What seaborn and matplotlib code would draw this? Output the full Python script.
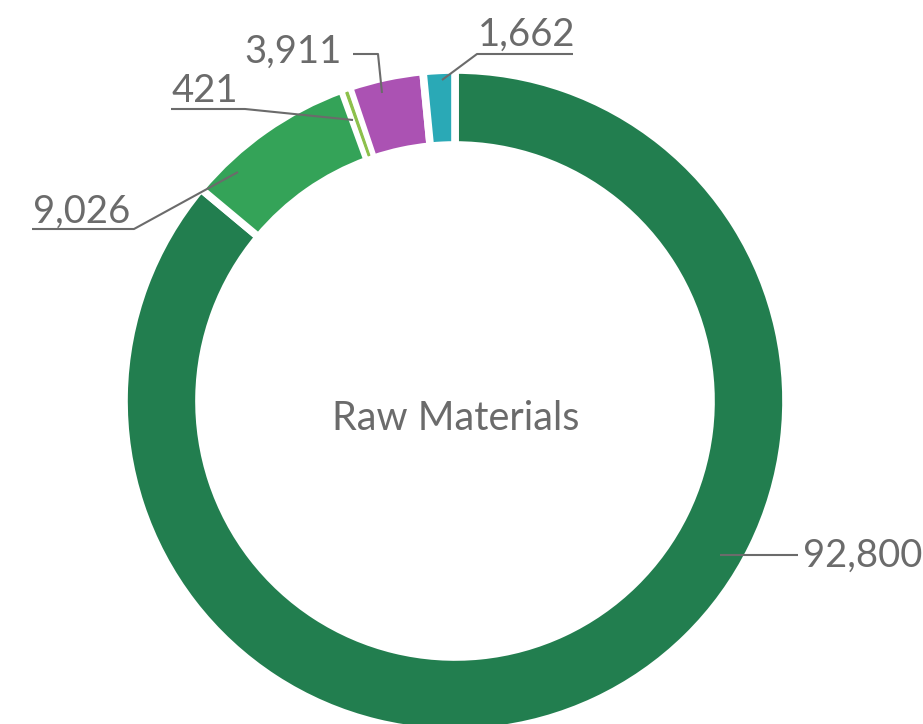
import numpy as np
import matplotlib.pyplot as plt
import seaborn as sns

sns.set_theme(style='white')
plt.rcParams['font.family'] = ['Lato', 'DejaVu Sans']

# data, clockwise from 12 o'clock
labels = ['92,800', '9,026', '421', '3,911', '1,662']
values = [92800, 9026, 421, 3911, 1662]
colors = ['#227e4f', '#34a358', '#8cc04a', '#ab52b3', '#2aa9b6']
center_label = 'Raw Materials'

# layout in image pixels (y down), converted below
W, H = 923, 724
cx, cy = 455, 401
leaders = [
    [(720, 555), (798, 555)],
    [(238, 172), (134, 229), (32, 229)],
    [(353, 120), (245, 109), (171, 109)],
    [(382, 93), (378, 54), (353, 54)],
    [(442, 80), (477, 54), (573, 54)],
]
text_pos = [(803, 567, 'left'), (33, 223, 'left'), (172, 102, 'left'),
            (342, 63, 'right'), (478, 46, 'left')]

grey = '#6b6b6b'


def flip(x, y):
    return x, H - y


fig = plt.figure(figsize=(W / 100, H / 100), dpi=100)
ax = fig.add_axes([0, 0, 1, 1])

wedges, _ = ax.pie(values, colors=colors, startangle=90, counterclock=False,
                   radius=331, center=flip(cx, cy),
                   wedgeprops=dict(width=75, edgecolor='white', linewidth=5.5))

# very small slices would vanish in the white gaps, keep them as a thin line
for w in wedges:
    if w.theta2 - w.theta1 < 2:
        mid = (w.theta1 + w.theta2) / 2
        w.set_theta1(mid - 0.2)
        w.set_theta2(mid + 0.2)
        w.set_radius(327)
        w.set_width(67)
        w.set_edgecolor(w.get_facecolor())
        w.set_linewidth(0.8)
        w.set_zorder(3)

for pts, (tx, ty, ha), lab in zip(leaders, text_pos, labels):
    xs, ys = zip(*[flip(x, y) for x, y in pts])
    ax.plot(xs, ys, color=grey, lw=1.5, zorder=4, solid_capstyle='butt')
    ax.text(*flip(tx, ty), lab, ha=ha, va='baseline', fontsize=27.5,
            color=grey, zorder=5)

ax.text(*flip(456, 430), center_label, ha='center', va='baseline',
        fontsize=28.5, color=grey)

ax.set_xlim(0, W)
ax.set_ylim(0, H)
ax.set_aspect('equal')
ax.axis('off')

fig.savefig('out.png', dpi=100)
